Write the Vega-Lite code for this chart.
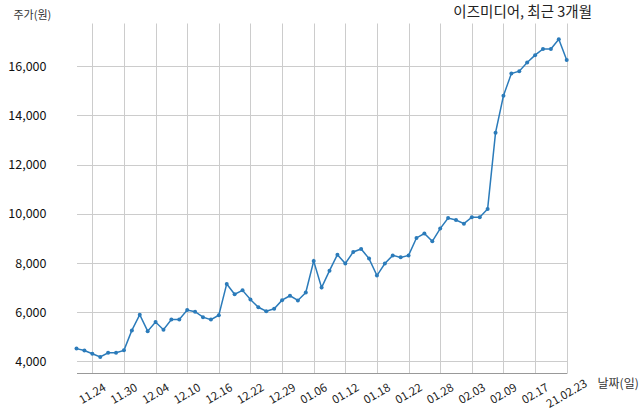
{
  "$schema": "https://vega.github.io/schema/vega-lite/v6.json",
  "autosize": "none",
  "width": 543,
  "height": 350,
  "padding": {"left": 49, "top": 23, "right": 48, "bottom": 41},
  "background": "white",
  "title": {
    "text": "이즈미디어, 최근 3개월",
    "anchor": "end",
    "frame": "group",
    "fontSize": 14.5,
    "fontWeight": "normal",
    "font": "Noto Sans CJK KR",
    "color": "#222222",
    "baseline": "bottom",
    "offset": 3,
    "dy": 28
  },
  "data": {
    "values": [
      {"d": "11.20", "v": 4520}, {"d": "11.23", "v": 4440}, {"d": "11.24", "v": 4310},
      {"d": "11.25", "v": 4180}, {"d": "11.26", "v": 4350}, {"d": "11.27", "v": 4350},
      {"d": "11.30", "v": 4450}, {"d": "12.01", "v": 5260}, {"d": "12.02", "v": 5900},
      {"d": "12.03", "v": 5230}, {"d": "12.04", "v": 5600}, {"d": "12.07", "v": 5290},
      {"d": "12.08", "v": 5700}, {"d": "12.09", "v": 5700}, {"d": "12.10", "v": 6090},
      {"d": "12.11", "v": 6020}, {"d": "12.14", "v": 5800}, {"d": "12.15", "v": 5700},
      {"d": "12.16", "v": 5880}, {"d": "12.17", "v": 7150}, {"d": "12.18", "v": 6730},
      {"d": "12.21", "v": 6890}, {"d": "12.22", "v": 6520}, {"d": "12.23", "v": 6200},
      {"d": "12.24", "v": 6040}, {"d": "12.28", "v": 6140}, {"d": "12.29", "v": 6490},
      {"d": "12.30", "v": 6670}, {"d": "01.04", "v": 6480}, {"d": "01.05", "v": 6800},
      {"d": "01.06", "v": 8080}, {"d": "01.07", "v": 7000}, {"d": "01.08", "v": 7690},
      {"d": "01.11", "v": 8340}, {"d": "01.12", "v": 7980}, {"d": "01.13", "v": 8450},
      {"d": "01.14", "v": 8570}, {"d": "01.15", "v": 8180}, {"d": "01.18", "v": 7490},
      {"d": "01.19", "v": 7980}, {"d": "01.20", "v": 8310}, {"d": "01.21", "v": 8230},
      {"d": "01.22", "v": 8310}, {"d": "01.25", "v": 9020}, {"d": "01.26", "v": 9200},
      {"d": "01.27", "v": 8880}, {"d": "01.28", "v": 9400}, {"d": "01.29", "v": 9830},
      {"d": "02.01", "v": 9750}, {"d": "02.02", "v": 9600}, {"d": "02.03", "v": 9860},
      {"d": "02.04", "v": 9860}, {"d": "02.05", "v": 10200}, {"d": "02.08", "v": 13300},
      {"d": "02.09", "v": 14800}, {"d": "02.10", "v": 15700}, {"d": "02.15", "v": 15800},
      {"d": "02.16", "v": 16150}, {"d": "02.17", "v": 16450}, {"d": "02.18", "v": 16700},
      {"d": "02.19", "v": 16700}, {"d": "02.22", "v": 17100}, {"d": "21.02.23", "v": 16250}
    ]
  },
  "mark": {
    "type": "line",
    "color": "#2b7bba",
    "strokeWidth": 1.5,
    "point": {"filled": true, "size": 16, "color": "#2b7bba"}
  },
  "encoding": {
    "x": {
      "field": "d",
      "type": "ordinal",
      "sort": null,
      "scale": {"type": "point", "padding": 0, "range": [27.5, 517.7]},
      "axis": {
        "title": "날짜(일)",
        "titleAngle": 0,
        "titleX": 548,
        "titleY": 10,
        "titleAlign": "left",
        "titleBaseline": "middle",
        "titleFontSize": 12,
        "titleFontWeight": "normal",
        "titleColor": "#333333",
        "titleFont": "Noto Sans CJK KR",
        "values": ["11.24", "11.30", "12.04", "12.10", "12.16", "12.22", "12.29", "01.06", "01.12", "01.18", "01.22", "01.28", "02.03", "02.09", "02.17", "21.02.23"],
        "labelAngle": -30,
        "labelAlign": "center",
        "labelBaseline": "middle",
        "labelPadding": 21,
        "labelFontSize": 11.5,
        "labelColor": "#222222",
        "labelFont": "Noto Sans CJK KR",
        "ticks": false,
        "domain": true,
        "domainColor": "#999999",
        "domainWidth": 1,
        "grid": true,
        "gridColor": "#cccccc",
        "gridWidth": 1
      }
    },
    "y": {
      "field": "v",
      "type": "quantitative",
      "scale": {"domain": [3529, 17757], "nice": false, "zero": false},
      "axis": {
        "title": "주가(원)",
        "titleAngle": 0,
        "titleX": -36,
        "titleY": -8,
        "titleAlign": "left",
        "titleBaseline": "middle",
        "titleFontSize": 11,
        "titleFontWeight": "normal",
        "titleColor": "#333333",
        "titleFont": "Noto Sans CJK KR",
        "values": [4000, 6000, 8000, 10000, 12000, 14000, 16000],
        "format": ",d",
        "labelFontSize": 12.5,
        "labelColor": "#111111",
        "labelFont": "Noto Sans CJK KR",
        "labelPadding": 3,
        "ticks": false,
        "domain": false,
        "grid": true,
        "gridColor": "#cccccc",
        "gridWidth": 1
      }
    }
  },
  "config": {"view": {"stroke": null}}
}
